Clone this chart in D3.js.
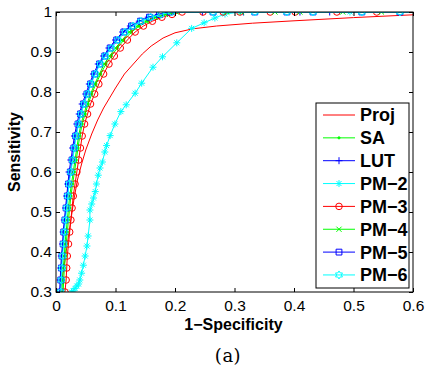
<!DOCTYPE html>
<html>
<head>
<meta charset="utf-8">
<script src="https://cdn.jsdelivr.net/npm/d3@7"></script>
<style>
  body { margin: 0; background: #fff; }
  svg { display: block; }
</style>
</head>
<body>
<script>
// ROC curves (1-specificity vs sensitivity)
const projFpr = [0.005, 0.009, 0.013, 0.017, 0.021, 0.025, 0.03, 0.036, 0.043, 0.05, 0.06, 0.07, 0.08, 0.09, 0.1, 0.115, 0.13, 0.145, 0.16, 0.18, 0.2, 0.23, 0.27, 0.33, 0.4, 0.5, 0.6, 1.0];
const projTpr = [0.28, 0.32, 0.36, 0.40, 0.44, 0.48, 0.53, 0.58, 0.62, 0.655, 0.695, 0.73, 0.76, 0.785, 0.81, 0.845, 0.87, 0.895, 0.915, 0.935, 0.948, 0.958, 0.965, 0.972, 0.978, 0.986, 0.993, 1.0];

const saFpr = [0.010, 0.012, 0.013, 0.014, 0.016, 0.017, 0.019, 0.021, 0.023, 0.025, 0.028, 0.031, 0.034, 0.037, 0.040, 0.044, 0.049, 0.054, 0.060, 0.067, 0.075, 0.084, 0.093, 0.103, 0.114, 0.127, 0.140, 0.155, 0.170, 0.187, 0.205, 1.0];
const saTpr = [0.28, 0.30, 0.33, 0.36, 0.39, 0.42, 0.45, 0.48, 0.51, 0.54, 0.57, 0.60, 0.63, 0.66, 0.69, 0.72, 0.745, 0.77, 0.795, 0.82, 0.845, 0.87, 0.89, 0.91, 0.93, 0.95, 0.965, 0.977, 0.987, 0.994, 1, 1];

const lutFpr = [0.004, 0.006, 0.007, 0.008, 0.009, 0.011, 0.012, 0.014, 0.016, 0.018, 0.020, 0.022, 0.025, 0.028, 0.031, 0.035, 0.039, 0.044, 0.050, 0.056, 0.063, 0.071, 0.080, 0.089, 0.100, 0.112, 0.125, 0.140, 0.155, 0.172, 0.190, 0.246, 0.315, 0.410, 0.460, 1.0];
const lutTpr = [0.28, 0.30, 0.33, 0.36, 0.39, 0.42, 0.45, 0.48, 0.51, 0.54, 0.57, 0.60, 0.63, 0.66, 0.69, 0.72, 0.745, 0.77, 0.795, 0.82, 0.845, 0.87, 0.89, 0.91, 0.93, 0.95, 0.965, 0.977, 0.987, 0.994, 1, 1, 1, 1, 1, 1];

const pm2Fpr = [0.022, 0.026, 0.029, 0.032, 0.035, 0.038, 0.040, 0.043, 0.046, 0.049, 0.052, 0.054, 0.057, 0.057, 0.060, 0.063, 0.066, 0.068, 0.071, 0.074, 0.078, 0.082, 0.085, 0.091, 0.099, 0.109, 0.118, 0.133, 0.144, 0.163, 0.179, 0.203, 0.228, 0.249, 0.267, 0.284, 0.310, 0.494, 1.0];
const pm2Tpr = [0.28, 0.300, 0.303, 0.309, 0.315, 0.320, 0.330, 0.347, 0.367, 0.390, 0.415, 0.440, 0.480, 0.505, 0.520, 0.535, 0.551, 0.570, 0.592, 0.610, 0.625, 0.650, 0.666, 0.691, 0.720, 0.751, 0.768, 0.797, 0.822, 0.862, 0.888, 0.923, 0.959, 0.973, 0.985, 0.995, 1, 1, 1];

const pm3Fpr = [0.013, 0.015, 0.017, 0.018, 0.019, 0.021, 0.023, 0.025, 0.027, 0.029, 0.032, 0.035, 0.038, 0.041, 0.044, 0.048, 0.053, 0.058, 0.065, 0.072, 0.080, 0.089, 0.098, 0.108, 0.120, 0.133, 0.147, 0.162, 0.178, 0.195, 0.212, 0.247, 0.281, 0.309, 0.360, 0.402, 0.472, 0.539, 1.0];
const pm3Tpr = [0.28, 0.30, 0.33, 0.36, 0.39, 0.42, 0.45, 0.48, 0.51, 0.54, 0.57, 0.60, 0.63, 0.66, 0.69, 0.72, 0.745, 0.77, 0.795, 0.82, 0.845, 0.87, 0.89, 0.91, 0.93, 0.95, 0.965, 0.977, 0.987, 0.994, 1, 1, 1, 1, 1, 1, 1, 1, 1];

const pm4Fpr = [0.008, 0.010, 0.011, 0.012, 0.014, 0.015, 0.017, 0.019, 0.021, 0.023, 0.026, 0.029, 0.032, 0.035, 0.038, 0.042, 0.047, 0.052, 0.058, 0.065, 0.073, 0.081, 0.090, 0.100, 0.111, 0.123, 0.137, 0.151, 0.167, 0.184, 0.202, 0.287, 0.312, 0.368, 0.410, 0.482, 0.547, 1.0];
const pm4Tpr = [0.28, 0.30, 0.33, 0.36, 0.39, 0.42, 0.45, 0.48, 0.51, 0.54, 0.57, 0.60, 0.63, 0.66, 0.69, 0.72, 0.745, 0.77, 0.795, 0.82, 0.845, 0.87, 0.89, 0.91, 0.93, 0.95, 0.965, 0.977, 0.987, 0.994, 1, 1, 1, 1, 1, 1, 1, 1];

const pm5Fpr = [0.005, 0.007, 0.008, 0.009, 0.010, 0.012, 0.013, 0.015, 0.017, 0.019, 0.021, 0.024, 0.027, 0.030, 0.033, 0.037, 0.041, 0.046, 0.052, 0.058, 0.065, 0.073, 0.082, 0.091, 0.102, 0.114, 0.127, 0.142, 0.157, 0.174, 0.192, 0.264, 0.334, 0.388, 0.432, 0.514, 0.578, 1.0];
const pm5Tpr = [0.28, 0.30, 0.33, 0.36, 0.39, 0.42, 0.45, 0.48, 0.51, 0.54, 0.57, 0.60, 0.63, 0.66, 0.69, 0.72, 0.745, 0.77, 0.795, 0.82, 0.845, 0.87, 0.89, 0.91, 0.93, 0.95, 0.965, 0.977, 0.987, 0.994, 1, 1, 1, 1, 1, 1, 1, 1];

const pm6Fpr = [0.006, 0.008, 0.009, 0.010, 0.011, 0.013, 0.014, 0.016, 0.018, 0.020, 0.022, 0.025, 0.028, 0.031, 0.034, 0.038, 0.042, 0.047, 0.053, 0.059, 0.066, 0.074, 0.083, 0.093, 0.104, 0.116, 0.129, 0.143, 0.159, 0.176, 0.194, 0.264, 0.334, 0.388, 0.432, 0.514, 0.578, 1.0];
const pm6Tpr = [0.28, 0.30, 0.33, 0.36, 0.39, 0.42, 0.45, 0.48, 0.51, 0.54, 0.57, 0.60, 0.63, 0.66, 0.69, 0.72, 0.745, 0.77, 0.795, 0.82, 0.845, 0.87, 0.89, 0.91, 0.93, 0.95, 0.965, 0.977, 0.987, 0.994, 1, 1, 1, 1, 1, 1, 1, 1];

const xTicks = [0, 0.1, 0.2, 0.3, 0.4, 0.5, 0.6];
const yTicks = [0.3, 0.4, 0.5, 0.6, 0.7, 0.8, 0.9, 1];

const series = [
  { name: 'Proj', color: '#ff0000', marker: null,     fpr: projFpr, tpr: projTpr },
  { name: 'SA',   color: '#00ff00', marker: 'dot',    fpr: saFpr,   tpr: saTpr },
  { name: 'LUT',  color: '#0000ff', marker: 'plus',   fpr: lutFpr,  tpr: lutTpr },
  { name: 'PM\u22122', color: '#00ffff', marker: 'star',   fpr: pm2Fpr, tpr: pm2Tpr },
  { name: 'PM\u22123', color: '#ff0000', marker: 'circle', fpr: pm3Fpr, tpr: pm3Tpr },
  { name: 'PM\u22124', color: '#00ff00', marker: 'cross',  fpr: pm4Fpr, tpr: pm4Tpr },
  { name: 'PM\u22125', color: '#0000ff', marker: 'square', fpr: pm5Fpr, tpr: pm5Tpr },
  { name: 'PM\u22126', color: '#00ffff', marker: 'hexagram', fpr: pm6Fpr, tpr: pm6Tpr }
];

const width = 427, height = 367;
const plot = { left: 56, right: 413, top: 12, bottom: 292 };

const x = d3.scaleLinear().domain([0, 0.6]).range([plot.left, plot.right]);
const y = d3.scaleLinear().domain([0.3, 1]).range([plot.bottom, plot.top]);

// MATLAB-like marker shapes
function hexagramPath(r) {
  const pts = [];
  for (let i = 0; i < 12; i++) {
    const a = -Math.PI / 2 + i * Math.PI / 6;
    const rr = i % 2 === 0 ? r : r * 0.58;
    pts.push([rr * Math.cos(a), rr * Math.sin(a)]);
  }
  return 'M' + pts.map(p => p[0].toFixed(2) + ',' + p[1].toFixed(2)).join('L') + 'Z';
}

const markerPaths = {
  plus: 'M-3.5,0H3.5M0,-3.5V3.5',
  star: 'M-3.5,0H3.5M0,-3.5V3.5M-2.5,-2.5L2.5,2.5M-2.5,2.5L2.5,-2.5',
  circle: 'M3.3,0A3.3,3.3 0 1,1 -3.3,0A3.3,3.3 0 1,1 3.3,0Z',
  cross: 'M-2.6,-2.6L2.6,2.6M-2.6,2.6L2.6,-2.6',
  square: 'M-2.9,-2.9H2.9V2.9H-2.9Z',
  hexagram: hexagramPath(4),
  dot: 'M1.1,0A1.1,1.1 0 1,1 -1.1,0A1.1,1.1 0 1,1 1.1,0Z'
};

const svg = d3.select('body').append('svg')
  .attr('width', width)
  .attr('height', height)
  .style('font-family', 'Liberation Sans, Arial, sans-serif');

svg.append('defs').append('clipPath')
  .attr('id', 'plot-clip')
  .append('rect')
  .attr('x', plot.left)
  .attr('y', plot.top)
  .attr('width', plot.right - plot.left)
  .attr('height', plot.bottom - plot.top);

// Curves
const line = d3.line()
  .x(d => x(d[0]))
  .y(d => y(d[1]));

const curves = svg.append('g').attr('clip-path', 'url(#plot-clip)');

series.forEach(s => {
  const pts = s.fpr.map((f, i) => [f, s.tpr[i]]);
  curves.append('path')
    .datum(pts)
    .attr('fill', 'none')
    .attr('stroke', s.color)
    .attr('stroke-width', 1)
    .attr('d', line);

  if (s.marker) {
    const inside = pts.filter(p => p[0] >= 0 && p[0] <= 0.6 && p[1] >= 0.3 && p[1] <= 1);
    curves.selectAll(null)
      .data(inside)
      .enter()
      .append('path')
      .attr('transform', d => `translate(${x(d[0])},${y(d[1])})`)
      .attr('d', markerPaths[s.marker])
      .attr('fill', s.marker === 'dot' ? s.color : 'none')
      .attr('stroke', s.color)
      .attr('stroke-width', 1);
  }
});

// Axes (ticks point inward on all four sides)
const fmtX = d => d === 0 ? '0' : d3.format('.1f')(d);
const fmtY = d => d === 1 ? '1' : d3.format('.1f')(d);

const axisStyle = g => {
  g.select('.domain').remove();
  g.selectAll('.tick line').attr('stroke', '#000');
  g.selectAll('.tick text')
    .attr('fill', '#000')
    .style('font-size', '15.5px')
    .style('font-family', 'Liberation Sans, Arial, sans-serif');
};

svg.append('g')
  .attr('transform', `translate(0,${plot.bottom})`)
  .call(d3.axisBottom(x).tickValues(xTicks).tickFormat(fmtX).tickSizeInner(-4).tickSizeOuter(0).tickPadding(8))
  .call(axisStyle);

svg.append('g')
  .attr('transform', `translate(0,${plot.top})`)
  .call(d3.axisTop(x).tickValues(xTicks).tickFormat('').tickSizeInner(-4).tickSizeOuter(0))
  .call(axisStyle);

svg.append('g')
  .attr('transform', `translate(${plot.left},0)`)
  .call(d3.axisLeft(y).tickValues(yTicks).tickFormat(fmtY).tickSizeInner(-4).tickSizeOuter(0).tickPadding(4))
  .call(axisStyle);

svg.append('g')
  .attr('transform', `translate(${plot.right},0)`)
  .call(d3.axisRight(y).tickValues(yTicks).tickFormat('').tickSizeInner(-4).tickSizeOuter(0))
  .call(axisStyle);

// Box around the plot
svg.append('rect')
  .attr('x', plot.left)
  .attr('y', plot.top)
  .attr('width', plot.right - plot.left)
  .attr('height', plot.bottom - plot.top)
  .attr('fill', 'none')
  .attr('stroke', '#000')
  .attr('stroke-width', 1);

// Axis labels
svg.append('text')
  .attr('x', (plot.left + plot.right) / 2 - 1)
  .attr('y', 330)
  .attr('text-anchor', 'middle')
  .style('font-size', '16px')
  .style('font-weight', 'bold')
  .text('1\u2212Specificity');

svg.append('text')
  .attr('transform', `translate(20,${(plot.top + plot.bottom) / 2}) rotate(-90)`)
  .attr('text-anchor', 'middle')
  .style('font-size', '16px')
  .style('font-weight', 'bold')
  .text('Sensitivity');

// Caption
svg.append('text')
  .attr('x', 228)
  .attr('y', 362)
  .attr('text-anchor', 'middle')
  .style('font-family', 'DejaVu Serif, serif')
  .style('font-size', '18px')
  .style('letter-spacing', '0.5px')
  .text('(a)');

// Legend
const legend = { left: 316, top: 103, width: 93, height: 185, rowStart: 115, rowStep: 22.85 };

svg.append('rect')
  .attr('x', legend.left)
  .attr('y', legend.top)
  .attr('width', legend.width)
  .attr('height', legend.height)
  .attr('fill', '#fff')
  .attr('stroke', '#000')
  .attr('stroke-width', 1);

const rows = svg.selectAll('.legend-row')
  .data(series)
  .enter()
  .append('g')
  .attr('class', 'legend-row')
  .attr('transform', (_, i) => `translate(${legend.left},${legend.rowStart + i * legend.rowStep})`);

rows.append('line')
  .attr('x1', 7)
  .attr('x2', 39)
  .attr('y1', 0)
  .attr('y2', 0)
  .attr('stroke', d => d.color)
  .attr('stroke-width', 1);

rows.filter(d => d.marker)
  .append('path')
  .attr('transform', 'translate(23,0)')
  .attr('d', d => markerPaths[d.marker])
  .attr('fill', d => d.marker === 'dot' ? d.color : 'none')
  .attr('stroke', d => d.color)
  .attr('stroke-width', 1);

rows.append('text')
  .attr('x', 44)
  .attr('y', 0)
  .attr('dy', '0.36em')
  .style('font-size', '18px')
  .style('font-weight', 'bold')
  .text(d => d.name);
</script>
</body>
</html>
